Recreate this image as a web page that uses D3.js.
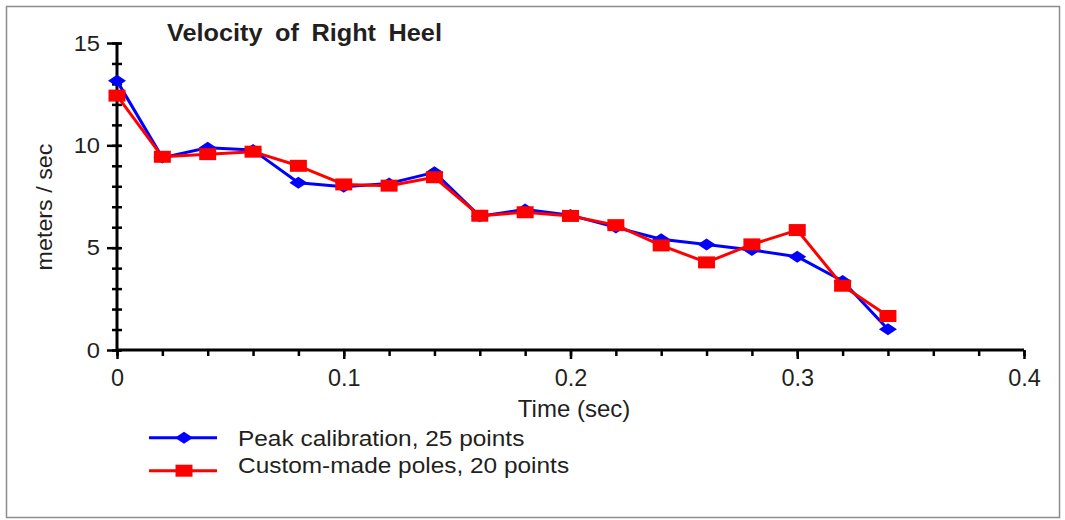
<!DOCTYPE html>
<html>
<head>
<meta charset="utf-8">
<script src="https://cdn.jsdelivr.net/npm/d3@7"></script>
<style>
    body { margin: 0; background: #fff; }
    text { font-family: "Liberation Sans", Arial, Helvetica, sans-serif; fill: #231f20; }
</style>
</head>
<body>
<script>
//time steps (sec)
var time = [0, 0.02, 0.04, 0.06, 0.08, 0.1, 0.12, 0.14, 0.16, 0.18,
            0.2, 0.22, 0.24, 0.26, 0.28, 0.3, 0.32, 0.34];

//velocity, peak calibration (m/s)
var peakCalib = [13.15, 9.4, 9.88, 9.77, 8.17, 7.98, 8.14, 8.68, 6.53, 6.87,
                 6.59, 5.99, 5.41, 5.15, 4.89, 4.56, 3.37, 1.01];

//velocity, custom-made poles (m/s)
var customPoles = [12.43, 9.44, 9.57, 9.69, 9.0, 8.09, 8.03, 8.44, 6.56, 6.73,
                   6.55, 6.1, 5.11, 4.28, 5.16, 5.86, 3.14, 1.66];

var seriesNames = ["Peak calibration, 25 points", "Custom-made poles, 20 points"];
var xTicks = [0, 0.1, 0.2, 0.3, 0.4];
var yTicks = [0, 5, 10, 15];

//execute script when window is loaded
window.onload = function(){

    var w = 1065,
        h = 520;

    var svg = d3.select("body")
        .append("svg")
        .attr("width", w)
        .attr("height", h);

    //outer frame
    svg.append("rect")
        .attr("x", 6.5)
        .attr("y", 6.5)
        .attr("width", 1053)
        .attr("height", 511)
        .style("fill", "none")
        .style("stroke", "#8c8c8c")
        .style("stroke-width", 1.5);

    //scales
    var x = d3.scaleLinear()
        .domain([0, 0.4])
        .range([117, 1024]);

    var y = d3.scaleLinear()
        .domain([0, 15])
        .range([350, 43]);

    //minor ticks
    var xMinor = d3.range(0, 0.4001, 0.02);
    var yMinor = d3.range(0, 15.001, 1);

    var xMinorAxis = svg.append("g")
        .attr("transform", "translate(0,350)")
        .call(d3.axisBottom(x).tickValues(xMinor).tickSize(6).tickFormat(""));

    var yMinorAxis = svg.append("g")
        .attr("transform", "translate(117,0)")
        .call(d3.axisLeft(y).tickValues(yMinor).tickSize(5).tickFormat(""));
    yMinorAxis.selectAll("line").attr("x2", -5).attr("x1", 5);

    //major axes
    var xAxis = svg.append("g")
        .attr("transform", "translate(0,350)")
        .call(d3.axisBottom(x).tickValues(xTicks).tickSize(9).tickPadding(11)
            .tickFormat(function(d){ return d === 0 ? "0" : d3.format(".1f")(d); }));

    var yAxis = svg.append("g")
        .attr("transform", "translate(117,0)")
        .call(d3.axisLeft(y).tickValues(yTicks).tickSize(10).tickPadding(15));
    yAxis.selectAll("line").attr("x1", 4);

    svg.selectAll(".domain")
        .attr("d", null);
    svg.selectAll(".tick line")
        .style("stroke", "#000")
        .style("stroke-width", 2.5);

    //axis lines
    svg.append("line")
        .attr("x1", x(0)).attr("x2", x(0.4))
        .attr("y1", y(0)).attr("y2", y(0))
        .style("stroke", "#000").style("stroke-width", 3);
    svg.append("line")
        .attr("x1", x(0)).attr("x2", x(0))
        .attr("y1", y(0)).attr("y2", y(15))
        .style("stroke", "#000").style("stroke-width", 3);

    xAxis.selectAll(".tick text")
        .style("font-size", "23px")
        .style("fill", "#231f20")
        .attr("transform", "scale(1.02,1)");
    yAxis.selectAll(".tick text")
        .style("font-size", "22px")
        .style("fill", "#231f20")
        .attr("transform", "scale(1.08,1)")
        .attr("x", -15.7);

    //series
    var series = [
        { name: seriesNames[0], values: peakCalib, color: "#0000ff", shape: "diamond" },
        { name: seriesNames[1], values: customPoles, color: "#ff0000", shape: "square" }
    ];

    var line = d3.line()
        .x(function(d){ return x(d[0]); })
        .y(function(d){ return y(d[1]); });

    //marker path, stretched wider than tall
    function marker(shape){
        if (shape === "diamond") return "M-9,0L0,-6L9,0L0,6Z";
        return "M-8.5,-6H8.5V6H-8.5Z";
    }

    series.forEach(function(s){
        var pts = time.map(function(t, i){ return [t, s.values[i]]; });

        svg.append("path")
            .datum(pts)
            .attr("d", line)
            .style("fill", "none")
            .style("stroke", s.color)
            .style("stroke-width", 3)
            .style("stroke-linejoin", "round");

        svg.selectAll(".m-" + s.shape)
            .data(pts)
            .enter()
            .append("path")
            .attr("class", "m-" + s.shape)
            .attr("transform", function(d){
                return "translate(" + x(d[0]) + "," + y(d[1]) + ")";
            })
            .attr("d", marker(s.shape))
            .style("fill", s.color);
    });

    //title
    svg.append("text")
        .attr("transform", "translate(167,41) scale(1.1,1)")
        .style("font-size", "23px")
        .style("font-weight", "bold")
        .style("word-spacing", "5px")
        .text("Velocity of Right Heel");

    //axis titles
    svg.append("text")
        .attr("transform", "translate(574,416.5)")
        .attr("text-anchor", "middle")
        .style("font-size", "24px")
        .text("Time (sec)");

    svg.append("text")
        .attr("transform", "translate(52,207) rotate(-90) scale(1.06,1)")
        .attr("text-anchor", "middle")
        .style("font-size", "22px")
        .text("meters / sec");

    //legend
    var legend = svg.selectAll(".legend")
        .data(series)
        .enter()
        .append("g")
        .attr("class", "legend");

    legend.append("line")
        .attr("x1", 149)
        .attr("x2", 217)
        .attr("y1", function(d, i){ return 437.7 + i * 33; })
        .attr("y2", function(d, i){ return 437.7 + i * 33; })
        .style("stroke", function(d){ return d.color; })
        .style("stroke-width", 3);

    legend.append("path")
        .attr("transform", function(d, i){ return "translate(184," + (437.7 + i * 33) + ")"; })
        .attr("d", function(d){ return marker(d.shape); })
        .style("fill", function(d){ return d.color; });

    legend.append("text")
        .attr("transform", function(d, i){
            return "translate(238," + (446 + i * 26.5) + ") scale(1.11,1)";
        })
        .style("font-size", "22px")
        .text(function(d){ return d.name; });
};
</script>
</body>
</html>
